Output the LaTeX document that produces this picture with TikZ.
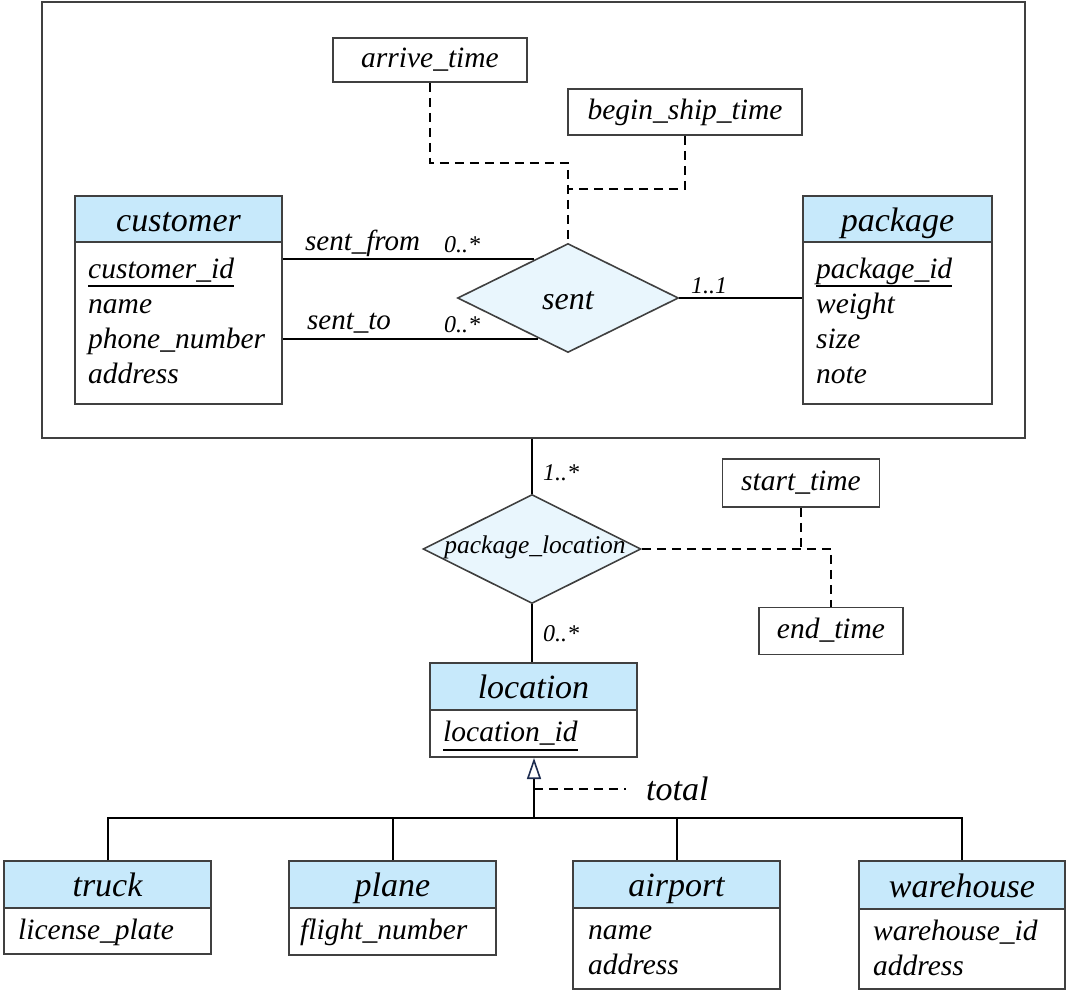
\documentclass[tikz,border=0pt]{standalone}
\usepackage{fontspec}
\setmainfont{Liberation Serif}
\usetikzlibrary{shapes.geometric,arrows.meta}
\definecolor{hdrblue}{RGB}{199,233,251}
\definecolor{relblue}{RGB}{233,246,253}
\definecolor{bord}{RGB}{64,64,64}
\definecolor{navy}{RGB}{30,45,80}
\newcommand{\fs}[1]{\fontsize{#1}{#1}\selectfont\itshape}
\begin{document}
\begin{tikzpicture}[x=1pt,y=-1pt,
  hdr/.style={draw=bord, line width=2pt, fill=hdrblue, anchor=north west, inner sep=0pt,
     font=\fs{34}, text height=26pt, text depth=2pt},
  body/.style={draw=bord, line width=2pt, fill=white, anchor=north west, inner sep=0pt},
  attr/.style={anchor=west, inner sep=0pt, font=\fs{29.5}, text height=18pt, text depth=4pt},
  lbl/.style={anchor=west, inner sep=0pt, font=\fs{29}, text height=18pt, text depth=4pt},
  mult/.style={anchor=west, inner sep=0pt, font=\fs{24}, text height=16pt, text depth=2pt},
  abox/.style={draw=bord, line width=1.6pt, fill=white, inner sep=0pt, font=\fs{29.5},
     text height=18pt, text depth=4pt},
  rel/.style={diamond, draw=bord, line width=1.6pt, fill=relblue, inner sep=0pt},
  conn/.style={line width=2pt, black},
  dsh/.style={line width=2pt, black, dash pattern=on 9pt off 6pt},
  uline/.style={line width=2pt, black}
]
\useasboundingbox (0,0) rectangle (1066,1001);

% outer aggregation rectangle
\node[draw=bord, line width=1.5pt, minimum width=983pt, minimum height=436pt,
  anchor=north west, inner sep=0pt] (outer) at (41,1) {};

% customer
\node[hdr, minimum width=207pt, minimum height=46pt] (custh) at (74,195) {customer};
\node[body, minimum width=207pt, minimum height=162pt] (custb) at (74,241) {};
\node[attr] (cid) at (88,271) {customer\_id};
\node[attr] (cname) at (88,306) {name};
\node[attr] (cphone) at (88,341) {phone\_number};
\node[attr] (caddr) at (88,376) {address};
\draw[uline] ([yshift=-8pt]cid.base west) -- ([yshift=-8pt]cid.base east);

% package
\node[hdr, minimum width=189pt, minimum height=46pt] (pkgh) at (802,195) {package};
\node[body, minimum width=189pt, minimum height=162pt] (pkgb) at (802,241) {};
\node[attr] (pid) at (816,271) {package\_id};
\node[attr] (pw) at (816,306) {weight};
\node[attr] (ps) at (816,341) {size};
\node[attr] (pn) at (816,376) {note};
\draw[uline] ([yshift=-8pt]pid.base west) -- ([yshift=-8pt]pid.base east);

% sent relationship
\node[rel, minimum width=221pt, minimum height=109pt] (sent) at (568,298) {};
\node[inner sep=0pt, font=\fs{32}, text height=20pt, text depth=2pt] (sentt) at (568,300) {sent};

% attributes of sent
\node[abox, minimum width=194pt, minimum height=44pt] (arr) at (430,60) {arrive\_time};
\node[abox, minimum width=234pt, minimum height=46pt] (bst) at (685,112) {begin\_ship\_time};
\coordinate (am) at (568,163);
\coordinate (bm) at (568,189);
\draw[dsh] (arr.south) |- (am) -- (sent.north);
\draw[dsh] (bst.south) |- (bm);

% sent connectors
\draw[conn] (custb.east |- sent.131) -- (sent.131);
\draw[conn] (custb.east |- sent.234) -- (sent.234);
\draw[conn] (sent.east) -- (sent.east -| pkgb.west);
\node[lbl] (lsf) at (305,243) {sent\_from};
\node[mult] (m1) at (444,245) {0..*};
\node[lbl] (lst) at (307,322) {sent\_to};
\node[mult] (m2) at (444,325) {0..*};
\node[mult] (m3) at (691,286) {1..1};

% package_location
\node[rel, minimum width=218pt, minimum height=109pt] (pl) at (532,549) {};
\node[inner sep=0pt, font=\fs{25.5}, text height=17pt, text depth=5pt] (plt) at (535,547) {package\_location};
\draw[conn] (outer.south -| pl.north) -- (pl.north);
\node[mult] (m4) at (543,473) {1..*};
\node[mult] (m5) at (543,634) {0..*};

\node[abox, minimum width=157pt, minimum height=48pt] (st) at (801,483) {start\_time};
\node[abox, minimum width=144pt, minimum height=47pt] (et) at (831,631) {end\_time};
\draw[dsh] (pl.east) -| (et.north);
\draw[dsh] (st.south) -- (st.south |- pl.east);

% location
\node[hdr, minimum width=207pt, minimum height=47pt] (loch) at (429,662) {location};
\node[body, minimum width=207pt, minimum height=47pt] (locb) at (429,709) {};
\node[attr] (lid) at (443,734) {location\_id};
\draw[uline] ([yshift=-9pt]lid.base west) -- ([yshift=-9pt]lid.base east);
\draw[conn] (pl.south) -- (pl.south |- loch.north);

% subclasses
\node[hdr, minimum width=207pt, minimum height=47pt] (truckh) at (3,860) {truck};
\node[body, minimum width=207pt, minimum height=46pt] (truckb) at (3,907) {};
\node[attr] (tlp) at (18,932) {license\_plate};

\node[hdr, minimum width=207pt, minimum height=47pt] (planeh) at (288,860) {plane};
\node[body, minimum width=207pt, minimum height=47pt] (planeb) at (288,907) {};
\node[attr] (pfn) at (300,932) {flight\_number};

\node[hdr, minimum width=207pt, minimum height=47pt] (airh) at (572,860) {airport};
\node[body, minimum width=207pt, minimum height=81pt] (airb) at (572,907) {};
\node[attr] (aname) at (588,932) {name};
\node[attr] (aaddr) at (588,967) {address};

\node[hdr, minimum width=206pt, minimum height=48pt] (wareh) at (858,860) {warehouse};
\node[body, minimum width=206pt, minimum height=80pt] (wareb) at (858,908) {};
\node[attr] (wid) at (873,933) {warehouse\_id};
\node[attr] (waddr) at (873,968) {address};

% generalization
\coordinate (jn) at (534,818);
\coordinate (tj) at (534,789);
\draw[conn] (truckh.north) |- (jn) -| (wareh.north);
\draw[conn] (planeh.north) |- (jn);
\draw[conn] (airh.north) |- (jn);
\draw[conn, -{Triangle[open, length=21pt, width=14pt, color=navy, line width=1.6pt]}] (jn) -- (jn |- locb.south);
\node[inner xsep=20pt, inner ysep=0pt, anchor=west, font=\fs{34}, text height=20pt, text depth=2pt] (tot) at (626,791) {total};
\draw[dsh] (tj) -- (tj -| tot.west);
\end{tikzpicture}
\end{document}
